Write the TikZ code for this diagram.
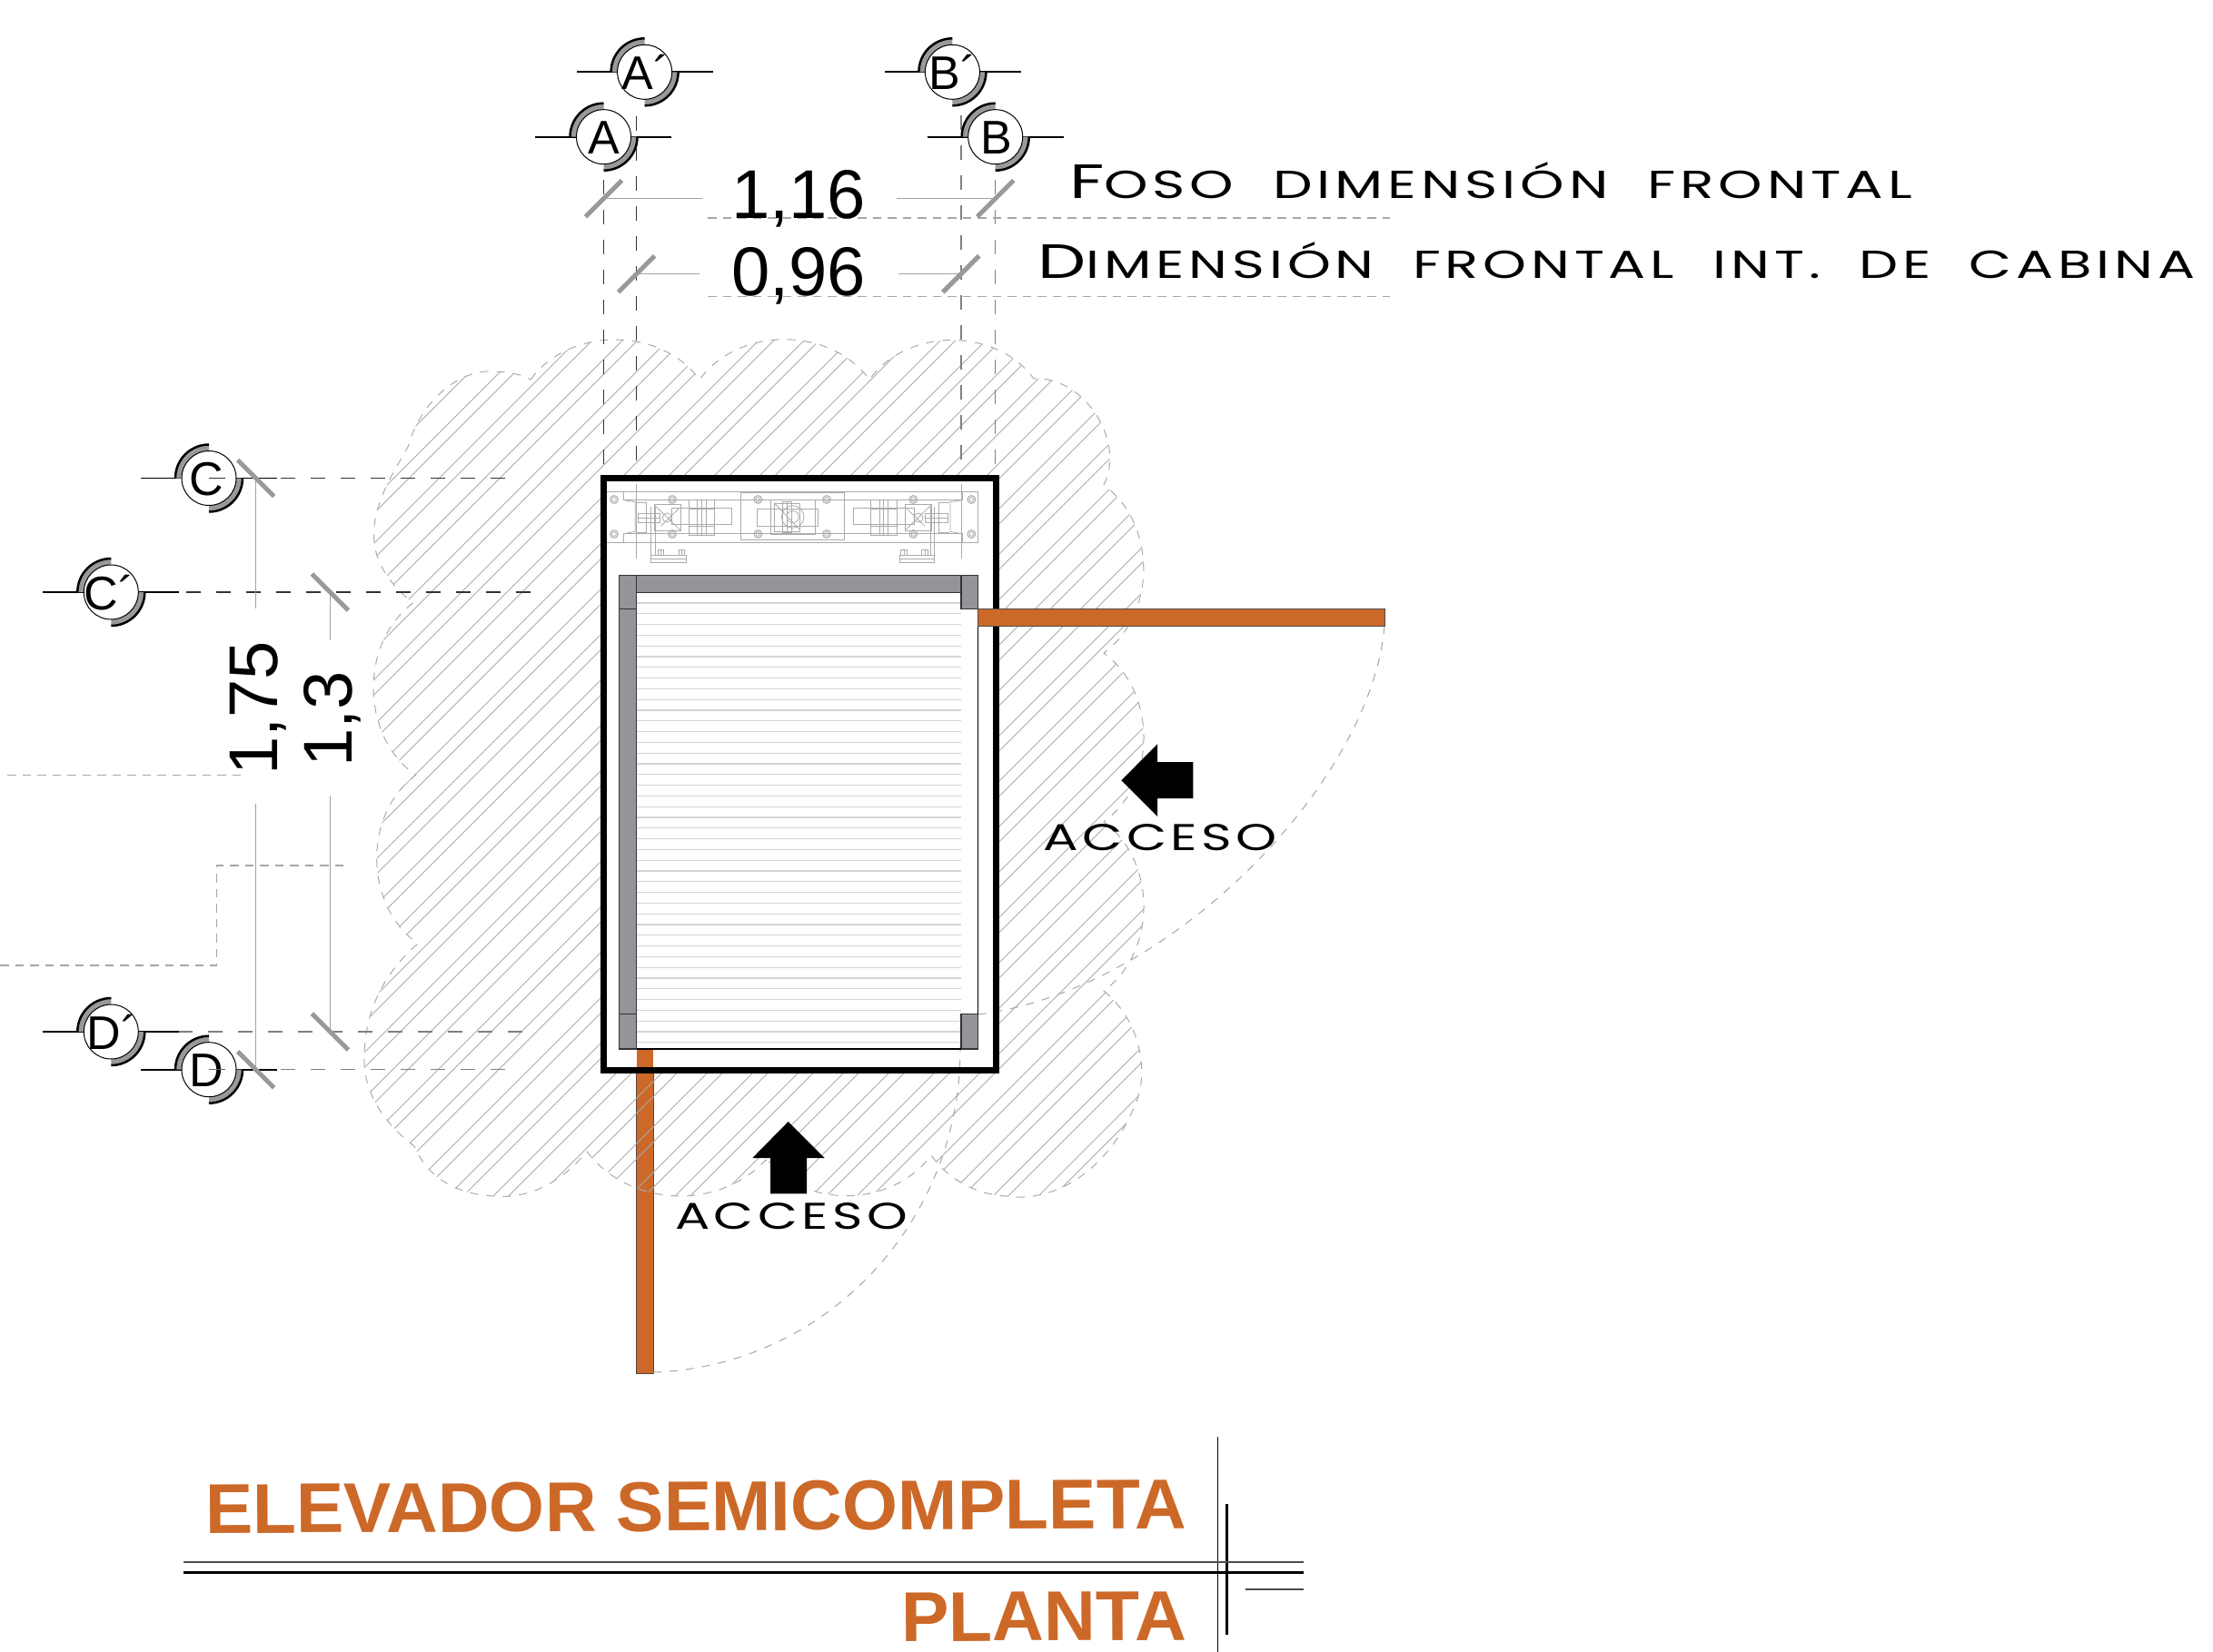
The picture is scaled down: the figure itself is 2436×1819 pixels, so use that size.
\documentclass[tikz,border=0pt]{standalone}
\usepackage{fontspec}
\usepackage{graphicx}
\setmainfont{Liberation Sans}
\newfontfamily\widefont[LetterSpace=8]{Poppins}
\definecolor{doorc}{HTML}{CC6928}
\definecolor{postc}{HTML}{939598}
\definecolor{hatchc}{HTML}{ABABAB}
\definecolor{machc}{HTML}{ABABAB}
\definecolor{slatc}{HTML}{D4D4D4}
\definecolor{tickc}{HTML}{999999}
\tikzset{
  hatchline/.style={draw=hatchc,line width=0.9pt},
  cloudline/.style={draw=hatchc,line width=1pt,dash pattern=on 9pt off 9pt},
  dimline/.style={draw=tickc!90,line width=1.5pt},
  ticksty/.style={draw=tickc,line width=5pt},
  blackdash/.style={draw=black!80,line width=1.2pt,dash pattern=on 16pt off 17pt},
  graydash/.style={draw=black!50,line width=1.4pt,dash pattern=on 16pt off 17pt},
  lightdash/.style={draw=black!35,line width=1.2pt,dash pattern=on 9.5pt off 7pt},
  swing/.style={draw=black!35,line width=1pt,dash pattern=on 9pt off 9pt},
  secline/.style={draw=black,line width=1.8pt},
  mach/.style={draw=machc,line width=0.8pt},
  slat/.style={draw=slatc,line width=1.1pt},
  post/.style={fill=postc,draw=black!80,line width=1.5pt},
  door/.style={fill=doorc,draw=black!70,line width=1pt},
  txt/.style={inner sep=0pt,outer sep=0pt,anchor=base},
  marker/.style={circle,draw=black,fill=white,line width=1pt,minimum size=60pt,inner sep=0pt}
}
\newcommand{\secmark}[7]{%
  \draw[secline] (#4,#3) -- (#5,#3);
  \begin{scope}[shift={(#2,#3)}]
    \fill[black!40] (180:37pt) arc[start angle=180,end angle=90,radius=37pt] -- (90:29pt) arc[start angle=90,end angle=180,radius=29pt] -- cycle;
    \fill[black!40] (0:37pt) arc[start angle=0,end angle=-90,radius=37pt] -- (-90:29pt) arc[start angle=-90,end angle=0,radius=29pt] -- cycle;
    \draw[black,line width=2.5pt] (180:37pt) arc[start angle=180,end angle=90,radius=37pt];
    \draw[black,line width=2.5pt] (0:37pt) arc[start angle=0,end angle=-90,radius=37pt];
  \end{scope}
  \node[marker] (#1) at (#2,#3) {};
  \path (#2,#3) ++(#7,19) node[txt] (#1t) {\fontsize{52}{52}\selectfont #6};
}
\newcommand{\machside}{%
  % I-beam
  \draw[mach] (140,122) -- (178,128) -- (178,226) -- (140,233);
  \draw[mach] (180,130) -- (215,130) -- (215,228) -- (180,228);
  \draw[mach] (140,122) -- (140,93) (140,233) -- (140,263);
  % small shaft
  \draw[mach] (187,167) rectangle (260,195);
  \draw[mach] (187,181) -- (260,181);
  % motor
  \draw[mach] (240,137) rectangle (327,222);
  \draw[mach] (240,137) -- (327,222);
  \draw[mach] (325,147) -- (262,208);
  \draw[mach] (283,180) circle[radius=5pt];
  \draw[mach] (297,147) rectangle (497,203);
  \draw[mach] (355,122) rectangle (440,237);
  \draw[mach] (383,122) -- (383,237) (398,122) -- (398,237) (412,122) -- (412,237);
  \draw[mach] (355,150) -- (440,150) (355,207) -- (440,207);
  % bracket
  \draw[mach] (230,145) -- (230,305) (243,145) -- (243,305) -- (320,305);
  \draw[mach] (230,305) rectangle (346,327);
  \draw[mach] (230,316) -- (346,316);
  \draw[mach] (253,287) rectangle (272,303) (262,287) -- (262,303);
  \draw[mach] (321,287) rectangle (341,303) (331,287) -- (331,303);
  % bolts
  \foreach \bx in {108,300}{\foreach \by in {120,234}{
    \draw[mach,line width=1pt] (\bx,\by) circle[radius=4.4pt];
    \draw[mach] (\bx,\by) circle[radius=2.4pt];}}
}
\newcommand{\cloudpath}{%
  (584,418) to[bend left=54] (770,418) to[bend left=54] (957,418) to[bend left=54] (1138,417)
  to[bend left=60] (1215,534) to[bend left=54] (1215,719) to[bend left=54] (1215,905) to[bend left=54] (1215,1091)
  .. controls (1262,1130) and (1262,1190) .. (1250,1215)
  .. controls (1220,1290) and (1160,1325) .. (1107,1317)
  .. controls (1075,1315) and (1045,1300) .. (1025,1272)
  to[bend left=52] (843,1277) to[bend left=50] (646,1268)
  .. controls (615,1305) and (580,1320) .. (544,1317)
  .. controls (500,1315) and (470,1295) .. (456,1262)
  .. controls (420,1235) and (400,1200) .. (401,1165)
  .. controls (401,1105) and (430,1065) .. (460,1039)
  to[bend left=54] (457.5,853.5) to[bend left=54] (454.6,664)
  .. controls (425,640) and (411,615) .. (411.6,588)
  .. controls (411,550) and (440,510) .. (450,490)
  .. controls (460,450) and (500,405) .. (546,409)
  .. controls (560,410) and (575,412) .. (584,418) -- cycle
}
\begin{document}
\begin{tikzpicture}[x=1pt,y=-1pt]
\useasboundingbox (0,0) rectangle (2436,1819);
\fill[white] (0,0) rectangle (2436,1819);

% bottom door, below the hatch
\draw[door] (700.7,1155) rectangle (719.3,1512);

% hatch
\begin{scope}
  \clip \cloudpath;
  \foreach \k in {-23,...,17}{
    \pgfmathsetmacro{\ca}{1860+50*\k}
    \pgfmathsetmacro{\cb}{1876.7+50*\k}
    \draw[hatchline] (\ca-300,300) -- (\ca-1350,1350);
    \draw[hatchline] (\cb-300,300) -- (\cb-1350,1350);
  }
\end{scope}
\draw[cloudline] \cloudpath;

% left light dashes
\draw[lightdash] (8,853.7) -- (267,853.7);
\draw[lightdash] (0,1063) -- (238.5,1063) -- (238.5,953) -- (380,953);

% shaft interior
\fill[white] (660.7,523) rectangle (1100,1181.7);
\begin{scope}
  \clip (667,530) rectangle (1093,551);
  \foreach \k in {-3,...,6}{
    \pgfmathsetmacro{\ca}{1860+50*\k}
    \pgfmathsetmacro{\cb}{1876.7+50*\k}
    \draw[hatchline] (\ca-300,300) -- (\ca-1350,1350);
    \draw[hatchline] (\cb-300,300) -- (\cb-1350,1350);
  }
\end{scope}
\fill[doorc] (700.7,1155) rectangle (719.3,1181.7);

% door swings
\draw[swing] (719,1511) .. controls (905,1505) and (1057,1350) .. (1057,1155) -- (1057,1117);
\draw[swing] (1524,689) .. controls (1510,860) and (1290,1090) .. (1076.7,1117);

% slats
\foreach \s in {0,...,41}{
  \draw[slat] (700.7,664+11.8*\s) -- (1058,664+11.8*\s);
}

% machine
\begin{scope}[shift={(640,510)},x=0.33333pt,y=-0.33333pt]
  \draw[mach] (182,70) -- (182,315) (1254,70) -- (1254,315);
  \machside
  \draw[mach] (80,93) rectangle (1310,263);
  \draw[mach] (140,93) rectangle (1258,122);
  \draw[mach] (140,233) rectangle (1258,263);
  \draw[mach] (527,97) rectangle (868,253);
  \draw[mach] (527,93) -- (868,93);
  \draw[mach] (625,120) rectangle (773,234);
  \draw[mach] (580,150) rectangle (780,207);
  \draw[mach] (638,133) rectangle (722,225);
  \draw[mach] (665,127) rectangle (695,230);
  \draw[mach] (680,127) -- (680,230);
  \draw[mach] (638,133) -- (722,220);
  \draw[mach] (698,177) circle[radius=12.3pt];
  \draw[mach] (698,177) circle[radius=6.6pt];
  \foreach \bx in {583,810}{\foreach \by in {120,234}{
    \draw[mach,line width=1pt] (\bx,\by) circle[radius=4.4pt];
    \draw[mach] (\bx,\by) circle[radius=2.4pt];}}
\end{scope}
\begin{scope}[shift={(1105.33,510)},x=-0.33333pt,y=-0.33333pt]
  \machside
\end{scope}

% cabin frame
\draw[post] (700.7,633.3) rectangle (1058,652.3);
\draw[post] (681.7,633.3) rectangle (700.7,670.7);
\draw[post] (681.7,670.7) rectangle (700.7,1116.7);
\draw[post] (681.7,1116.7) rectangle (700.7,1155);
\draw[post] (1058,633.3) rectangle (1076.7,670.7);
\draw[post] (1058,1116.7) rectangle (1076.7,1155);
\draw[black,line width=2.5pt] (700.7,1155) -- (1058,1155);
\draw[black,line width=1.5pt] (1076.7,689) -- (1076.7,1116.7);

% shaft wall
\draw[black,line width=7pt] (664.2,526.5) rectangle (1096.5,1178.2);

% right door
\draw[door] (1076.7,670.7) rectangle (1524,689.3);

% vertical dashes
\draw[blackdash] (664.5,198) -- (664.5,523);
\draw[blackdash] (700.6,128) -- (700.6,523);
\draw[graydash] (1057.8,127) -- (1057.8,523);
\draw[graydash] (1095.7,198) -- (1095.7,523);

% horizontal light dashes at the labels
\draw[lightdash] (779,240) -- (1530,240);
\draw[lightdash] (779,326.7) -- (1530,326.7);

% dashes to the left
\draw[blackdash] (556,526.5) -- (305,526.5);
\draw[blackdash] (584,652) -- (196,652);
\draw[graydash] (575,1136) -- (196,1136);
\draw[graydash] (556,1177.7) -- (305,1177.7);

% section markers
\secmark{mAp}{709.6}{79.3}{635}{785}{A´}{1}
\secmark{mA}{664.5}{150.7}{589}{739}{A}{0}
\secmark{mBp}{1048.4}{79.3}{974}{1124}{B´}{0}
\secmark{mB}{1095.7}{150.7}{1021}{1171}{B}{1}
\secmark{mC}{230}{526.5}{155}{305}{C}{-3}
\secmark{mCp}{122.3}{652}{46.7}{196.7}{C´}{-2}
\secmark{mDp}{122.3}{1136}{46.7}{196.7}{D´}{1}
\secmark{mD}{230}{1177.7}{155}{305}{D}{-3}

% short dashes inside the C and D markers
\draw[black!80,line width=1.2pt] (230,526.5) -- (248,526.5);
\draw[black!60,line width=1.2pt] (230,1177.7) -- (248,1177.7);

% dimension lines, top
\draw[dimline] (664.5,218.7) -- (773,218.7);
\draw[dimline] (987,218.7) -- (1095.7,218.7);
\draw[dimline] (700.6,301.7) -- (770,301.7);
\draw[dimline] (989,301.7) -- (1057.8,301.7);
% dimension lines, left
\draw[dimline] (281.5,526.5) -- (281.5,670);
\draw[dimline] (281.5,885) -- (281.5,1177.7);
\draw[dimline] (363.3,652) -- (363.3,705);
\draw[dimline] (363.3,876) -- (363.3,1136);

% ticks
\foreach \tx/\ty in {664.5/218.7,1095.7/218.7,700.6/301.7,1057.8/301.7}{
  \draw[ticksty] (\tx-20,\ty+20) -- (\tx+20,\ty-20);
}
\foreach \tx/\ty in {281.6/526.5,363.3/652,363.3/1136,281.6/1177.7}{
  \draw[ticksty] (\tx-20,\ty-20) -- (\tx+20,\ty+20);
}

% dimension values
\node[txt] (d116) at (879,241) {\fontsize{76}{76}\selectfont 1,16};
\node[txt] (d096) at (879,326) {\fontsize{76}{76}\selectfont 0,96};
\node[txt,rotate=90] (d175) at (305,780) {\fontsize{76}{76}\selectfont 1,75};
\node[txt,rotate=90] (d13) at (387,792) {\fontsize{76}{76}\selectfont 1,3};

% wide labels
\node[txt,anchor=base west] (lab1) at (1177,219) {\resizebox{928pt}{\height}{\widefont\fontsize{53}{53}\selectfont F\fontsize{43}{43}\selectfont OSO\hspace{.35em} DIMENSIÓN\hspace{.35em} FRONTAL}};
\node[txt,anchor=base west] (lab2) at (1142.5,307) {\resizebox{1274pt}{\height}{\widefont\fontsize{53}{53}\selectfont D\fontsize{43}{43}\selectfont IMENSIÓN\hspace{.35em} FRONTAL\hspace{.35em} INT.\hspace{.35em} DE\hspace{.35em} CABINA}};

% access arrows
\fill[black] (1234.3,859.3) -- (1274,819.3) -- (1274,839) -- (1313.3,839) -- (1313.3,879) -- (1274,879) -- (1274,899) -- cycle;
\fill[black] (867.7,1235) -- (907.7,1275) -- (888,1275) -- (888,1314.3) -- (848,1314.3) -- (848,1275) -- (828.3,1275) -- cycle;
\node[txt,anchor=base west] (acc1) at (1148,936.7) {\resizebox{258pt}{\height}{\widefont\fontsize{41}{41}\selectfont ACCESO}};
\node[txt,anchor=base west] (acc2) at (743,1353) {\resizebox{256pt}{\height}{\widefont\fontsize{41}{41}\selectfont ACCESO}};

% title
\node[txt,anchor=base east,text=doorc,rotate=0.3] (title) at (1306,1682.7) {\resizebox{1080pt}{\height}{\bfseries\fontsize{77.7}{78}\selectfont ELEVADOR SEMICOMPLETA}};
\node[txt,anchor=base east,text=doorc,rotate=0.3] (plan) at (1306,1805.7) {\resizebox{314pt}{\height}{\bfseries\fontsize{77.7}{78}\selectfont PLANTA}};

% title rules
\draw[black,line width=1.5pt] (1340.7,1581.7) -- (1340.7,1819);
\draw[black,line width=3pt] (1350,1656) -- (1350,1800);
\draw[black!70,line width=1.5pt] (202,1720) -- (1435,1720);
\draw[black,line width=3pt] (202,1731) -- (1435,1731);
\draw[black!70,line width=1.5pt] (1370.7,1750) -- (1435,1750);
\end{tikzpicture}
\end{document}
